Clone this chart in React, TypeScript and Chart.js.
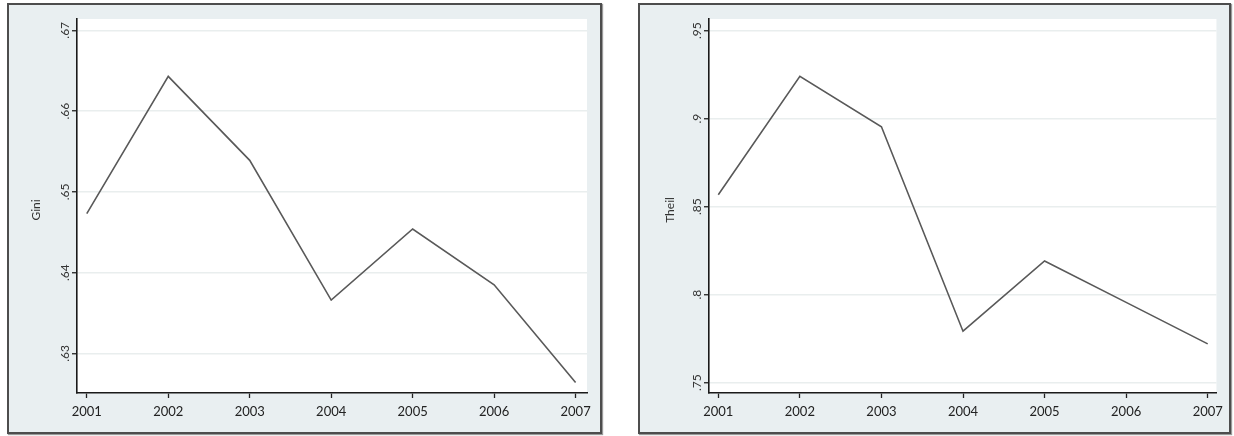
import React, { useEffect, useRef } from "react";
import { Chart, registerables } from "chart.js";

Chart.register(...registerables);

const years = [2001, 2002, 2003, 2004, 2005, 2006, 2007];
const giniValues = [0.6473, 0.6643, 0.6539, 0.6366, 0.6454, 0.6385, 0.6264];
const theilValues = [0.8567, 0.924, 0.8954, 0.7792, 0.8191, 0.7956, 0.772];
const giniTicks = [0.63, 0.64, 0.65, 0.66, 0.67];
const giniTickLabels = [".63", ".64", ".65", ".66", ".67"];
const theilTicks = [0.75, 0.8, 0.85, 0.9, 0.95];
const theilTickLabels = [".75", ".8", ".85", ".9", ".95"];

const FONT = "Lato, 'Open Sans', sans-serif";

type PanelProps = {
  left: number;
  width: number;
  title: string;
  values: number[];
  ticks: number[];
  tickLabels: string[];
  yMin: number;
  yMax: number;
  xMin: number;
  xMax: number;
  yWidth: number;
  padRight: number;
  titleOffset: number;
};

function Panel(p: PanelProps) {
  const ref = useRef<HTMLCanvasElement | null>(null);
  const innerW = p.width - 4;
  const innerH = 427;
  useEffect(() => {
    if (!ref.current) return;
    const bgPlugin = {
      id: "bgPlugin",
      beforeDraw(chart: any) {
        const { ctx, chartArea } = chart;
        ctx.save();
        ctx.fillStyle = "#ffffff";
        ctx.fillRect(chartArea.left, chartArea.top, chartArea.right - chartArea.left, chartArea.bottom - chartArea.top);
        ctx.restore();
      },
      afterDraw(chart: any) {
        const { ctx, chartArea } = chart;
        const ys = chart.scales.y;
        ctx.save();
        ctx.fillStyle = "#333333";
        ctx.font = `12px ${FONT}`;
        ctx.textAlign = "center";
        ctx.textBaseline = "middle";
        p.ticks.forEach((v, i) => {
          const y = ys.getPixelForValue(v);
          ctx.save();
          ctx.translate(chartArea.left - 12, y);
          ctx.rotate(-Math.PI / 2);
          ctx.fillText(p.tickLabels[i], 0, 0);
          ctx.restore();
        });
        ctx.save();
        ctx.font = `12px ${FONT}`;
        ctx.translate(chartArea.left - p.titleOffset, (chartArea.top + chartArea.bottom) / 2 + 4);
        ctx.rotate(-Math.PI / 2);
        ctx.fillText(p.title, 0, 0);
        ctx.restore();
        ctx.restore();
      },
    };
    const chart = new Chart(ref.current, {
      type: "line",
      data: {
        datasets: [
          {
            data: years.map((x, i) => ({ x, y: p.values[i] })),
            borderColor: "#595959",
            borderWidth: 1.6,
            pointRadius: 0,
            tension: 0,
            fill: false,
          },
        ],
      },
      options: {
        responsive: false,
        animation: false,
        layout: { padding: { top: 14, right: p.padRight, left: 0, bottom: 0 } },
        plugins: { legend: { display: false }, tooltip: { enabled: false } },
        scales: {
          x: {
            type: "linear",
            min: p.xMin,
            max: p.xMax,
            afterBuildTicks(scale: any) {
              scale.ticks = years.map((v) => ({ value: v }));
            },
            afterFit(scale: any) {
              scale.height = 39;
            },
            ticks: {
              callback: (v: any) => String(v),
              color: "#222222",
              font: { family: FONT, size: 13 },
              padding: 6,
              maxRotation: 0,
              autoSkip: false,
            },
            grid: {
              drawOnChartArea: false,
              drawTicks: true,
              tickLength: 5,
              tickColor: "#222222",
              tickWidth: 1.3,
            },
            border: { color: "#1a1a1a", width: 1.6 },
          },
          y: {
            type: "linear",
            min: p.yMin,
            max: p.yMax,
            afterBuildTicks(scale: any) {
              scale.ticks = p.ticks.map((v) => ({ value: v }));
            },
            afterFit(scale: any) {
              scale.width = p.yWidth;
            },
            ticks: { display: false },
            grid: {
              color: "#e9eeee",
              lineWidth: 1.5,
              drawTicks: true,
              tickLength: 5,
              tickColor: "#222222",
              tickWidth: 1.3,
            },
            border: { color: "#1a1a1a", width: 1.6 },
          },
        },
      },
      plugins: [bgPlugin],
    } as any);
    return () => chart.destroy();
  }, []);
  return (
    <div
      style={{
        position: "absolute",
        left: p.left,
        top: 3,
        width: p.width - 4,
        height: innerH,
        border: "2px solid #4d4d4d",
        background: "#e9eff1",
        boxShadow: "1px 1px 1px #9a9a9a",
      }}
    >
      <canvas ref={ref} width={innerW} height={innerH} style={{ display: "block" }} />
    </div>
  );
}

export default function App() {
  return (
    <div style={{ position: "fixed", left: 0, top: 0, width: 1234, height: 436, background: "#ffffff" }}>
      <Panel
        left={7}
        width={595}
        title="Gini"
        values={giniValues}
        ticks={giniTicks}
        tickLabels={giniTickLabels}
        yMin={0.6251}
        yMax={0.6714}
        xMin={2000.88}
        xMax={2007.14}
        yWidth={68}
        padRight={13}
        titleOffset={41}
      />
      <Panel
        left={638}
        width={593}
        title="Theil"
        values={theilValues}
        ticks={theilTicks}
        tickLabels={theilTickLabels}
        yMin={0.7441}
        yMax={0.9566}
        xMin={2000.886}
        xMax={2007.107}
        yWidth={69}
        padRight={12}
        titleOffset={39}
      />
    </div>
  );
}
